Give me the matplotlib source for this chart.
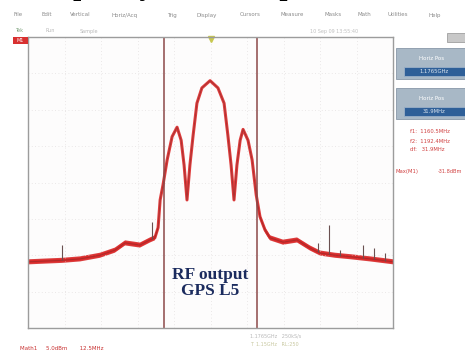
import numpy as np
import matplotlib.pyplot as plt
from matplotlib.patches import Rectangle

W, H = 465, 353

# spectrum trace (MHz, dBm), 12.5 MHz/div, 5 dB/div
freq_mhz = [1114.3, 1119.8, 1125.6, 1131.8, 1138.6, 1143.7, 1147.2, 1152.3, 1155.7,
            1157.4, 1158.5, 1159.2, 1160.2, 1161.6, 1163.3, 1165.0, 1166.4, 1167.4,
            1168.4, 1169.4, 1170.5, 1171.8, 1173.5, 1176.3, 1179.0, 1181.1, 1182.4,
            1183.5, 1184.5, 1185.5, 1186.6, 1187.6, 1189.3, 1190.7, 1192.1, 1193.4,
            1195.1, 1196.8, 1201.3, 1206.1, 1210.5, 1214.0, 1219.1, 1224.3, 1231.1,
            1239.0]
level_dbm = [-40.9, -40.8, -40.7, -40.5, -40.0, -39.3, -38.3, -38.6, -37.9,
             -37.6, -36.2, -32.4, -30.3, -26.9, -23.7, -22.4, -24.2, -27.6,
             -32.4, -27.6, -23.5, -19.1, -17.0, -16.0, -17.0, -19.1, -23.5,
             -27.6, -32.4, -27.6, -24.2, -22.7, -24.2, -26.9, -31.7, -34.7,
             -36.5, -37.6, -38.2, -37.9, -39.0, -39.7, -40.0, -40.2, -40.5,
             -40.9]

# narrow spurs on the noise floor
spur_freq = [1125.6, 1156.3, 1213.3, 1217.1, 1220.8, 1228.7, 1232.5, 1236.3]
spur_level = [-38.6, -35.4, -38.3, -35.8, -39.3, -38.6, -39.0, -39.7]

cursor_freq = [1160.5, 1192.4]

menu_items = ["File", "Edit", "Vertical", "Horiz/Acq", "Trig", "Display",
              "Cursors", "Measure", "Masks", "Math", "Utilities", "Help"]
menu_x = [18, 47, 80, 125, 172, 207, 250, 292, 333, 364, 398, 435]


def fx(x):
    return x / W


def fy(y):
    return 1 - y / H


fig = plt.figure(figsize=(W / 100, H / 100), dpi=100)
fig.patch.set_facecolor("white")

# main graticule
ax = fig.add_axes([fx(28), fy(328), (393 - 28) / W, (328 - 37) / H])
ax.set_xlim(1113.95, 1238.95)
ax.set_ylim(-50, -10)
ax.set_facecolor("#fdfcfc")
for s in ax.spines.values():
    s.set_color("#9c9c9c")
    s.set_linewidth(1.0)
ax.set_xticks(np.arange(1113.95, 1238.96, 12.5))
ax.set_yticks(np.arange(-50, -9, 5))
ax.tick_params(length=0, labelbottom=False, labelleft=False)
ax.grid(True, color="#e4e0e0", lw=0.6, ls=(0, (1, 3)))

lv = np.array(level_dbm)
# noisy floor drawn as a band, lobes as a line
ax.fill_between(freq_mhz, lv - 0.35, lv + 0.35, where=lv < -33.5, interpolate=True,
                color="#d82a2a", alpha=0.9, lw=0)
ax.plot(freq_mhz, level_dbm, color="#dc2828", lw=2.2, alpha=0.9, solid_joinstyle="round")
ax.plot(freq_mhz, level_dbm, color="#8a2a2a", lw=0.7, alpha=0.6)

spur_base = np.interp(spur_freq, freq_mhz, level_dbm)
ax.vlines(spur_freq, spur_base, spur_level, color="#6a5050", lw=0.8)

for f in cursor_freq:
    ax.axvline(f, color="#8c4848", lw=1.1)

ax.plot([1176.45], [-10.3], marker="v", ms=4, color="#c8c850", clip_on=False)

# cut-off caption line above the screenshot
fig.text(fx(22), 1.013, "Frequency of the output", fontsize=21, fontweight="bold",
         family="Liberation Serif", va="baseline", color="black")

# menu bar and status row
for name, x in zip(menu_items, menu_x):
    fig.text(fx(x), fy(15), name, fontsize=4, color="#8a8a8a", ha="center", va="center")
fig.text(fx(15), fy(31), "Tek", fontsize=3.5, color="#7aa07a", va="center")
fig.text(fx(45), fy(31), "Run", fontsize=3.5, color="#b8b8b8", va="center")
fig.text(fx(80), fy(31), "Sample", fontsize=3.5, color="#b8b8b8", va="center")
fig.text(fx(310), fy(31), "10 Sep 09 13:55:40", fontsize=3.5, color="#c0c0c0", va="center")
fig.add_artist(Rectangle((fx(13), fy(44)), 15 / W, 7 / H, transform=fig.transFigure,
                         facecolor="#d83030", edgecolor="none"))
fig.text(fx(20.5), fy(40.5), "M1", fontsize=3.5, color="white", ha="center", va="center")

# right-hand control panel
fig.add_artist(Rectangle((fx(447), fy(42)), 18 / W, 9 / H, transform=fig.transFigure,
                         facecolor="#c8c8c8", edgecolor="#a0a0a0", lw=0.6))
for top, val in [(48, "1.1765GHz"), (88, "31.9MHz")]:
    fig.add_artist(Rectangle((fx(396), fy(top + 31)), 69 / W, 31 / H,
                             transform=fig.transFigure, facecolor="#a8b8c6",
                             edgecolor="#8898a8", lw=0.6))
    fig.text(fx(432), fy(top + 10), "Horiz Pos", fontsize=4, color="white",
             ha="center", va="center")
    fig.add_artist(Rectangle((fx(404), fy(top + 28)), 61 / W, 9 / H,
                             transform=fig.transFigure, facecolor="#2e5f98",
                             edgecolor="#9ab0c8", lw=0.6))
    fig.text(fx(434), fy(top + 23.5), val, fontsize=3.8, color="#dce6f0",
             ha="center", va="center")

readouts = ["f1:  1160.5MHz", "f2:  1192.4MHz", "df:   31.9MHz"]
for i, r in enumerate(readouts):
    fig.text(fx(410), fy(132 + 9 * i), r, fontsize=3.8, color="#d04040", va="center")
fig.text(fx(395), fy(172), "Max(M1)", fontsize=3.8, color="#d04040", va="center")
fig.text(fx(438), fy(172), "-31.8dBm", fontsize=3.6, color="#d04040", va="center")

# bottom status text
fig.text(fx(250), fy(336), "1.1765GHz   250kS/s", fontsize=3.5, color="#b8b8b8", va="center")
fig.text(fx(250), fy(344), "T  1.15GHz   RL:250", fontsize=3.5, color="#c8c8a0", va="center")
fig.text(fx(20), fy(349), "Math1     5.0dBm       12.5MHz", fontsize=4, color="#c83030",
         va="center")

# annotation inside the plot
fig.text(fx(210), fy(283), "RF output\nGPS L5", fontsize=12.5, fontweight="bold",
         family="Liberation Serif", color="#1b2b5e", ha="center", va="center",
         linespacing=1.05)

fig.savefig("out.png", dpi=100)
